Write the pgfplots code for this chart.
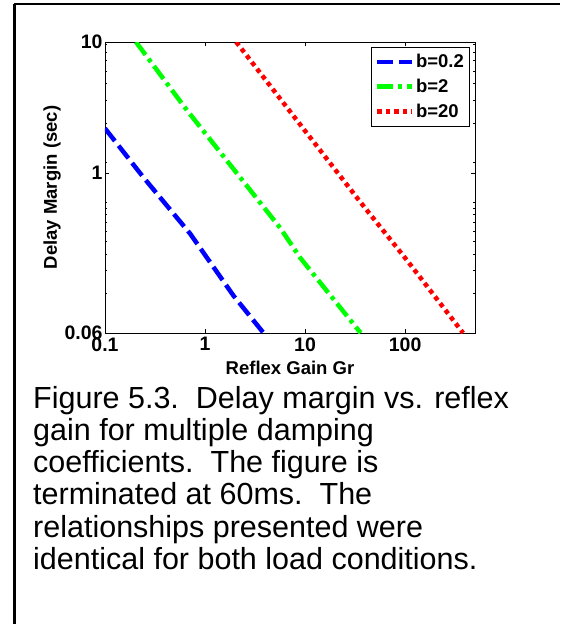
\documentclass[border=0pt]{standalone}
\usepackage{pgfplots}
\pgfplotsset{compat=1.18}
\usepackage{fontspec}
\setmainfont{Liberation Sans}
\definecolor{mblue}{RGB}{0,0,255}
\definecolor{mgreen}{RGB}{0,255,0}
\definecolor{mred}{RGB}{255,0,0}
\begin{document}
\begin{tikzpicture}
\useasboundingbox (0pt,0pt) rectangle (560pt,-624pt);
\draw[line width=2.7pt] (14pt,-4pt) -- (560pt,-4pt);
\draw[line width=3pt] (14pt,-4pt) -- (14pt,-624pt);
\begin{axis}[
  at={(105pt,-333pt)}, anchor=south west,
  scale only axis, width=370pt, height=291pt,
  xmode=log, ymode=log,
  xmin=0.1, xmax=500, ymin=0.06, ymax=10,
  xtick={0.1,1,10,100}, ytick={0.06,1,10},
  xminorticks=false, yminorticks=true,
  minor ytick={0.12,0.18,0.24,0.30,0.36,0.42,0.48,0.54,0.60,1.2,2.4,3.6,4.8,6.0,7.2,8.4,9.6},
  log ticks with fixed point,
  /pgf/number format/assume math mode=true,
  ticklabel style={font=\bfseries\fontsize{19.5}{19.5}\selectfont},
  xticklabel style={yshift=-1pt},
  yticklabel style={xshift=1pt},
  major tick length=4pt, minor tick length=2.5pt,
  tick style={black, line width=0.6pt},
  axis line style={line width=0.8pt},
  xlabel={Reflex Gain Gr}, ylabel={Delay Margin (sec)},
  label style={font=\bfseries\fontsize{18.5}{18.5}\selectfont},
  xlabel style={at={(axis description cs:0.5,-0.144)}, anchor=base},
  ylabel style={at={(axis description cs:-0.13,0.5)}, anchor=base},
  legend style={at={(axis description cs:0.986,0.983)}, anchor=north east,
    font=\bfseries\fontsize{18.5}{18.5}\selectfont, draw=black, line width=0.8pt,
    inner xsep=4pt, inner ysep=5pt, row sep=6pt, column sep=0pt,
    nodes={inner xsep=1.5pt}},
  legend cell align=left,
  legend image code/.code={\draw[#1] (0pt,0pt) -- (35pt,0pt);},
]
\addplot[mblue, line width=4.5pt, dash pattern=on 16pt off 6pt] coordinates {
(0.1,2.19) (0.241,0.93) (0.71,0.344) (1.92,0.116) (3.85,0.06)};
\addlegendentry{b=0.2}
\addplot[mgreen, line width=4.5pt, dash pattern=on 16pt off 5pt on 4pt off 5pt] coordinates {
(0.204,10) (0.658,3.02) (5.65,0.38) (8.95,0.225) (36,0.06)};
\addlegendentry{b=2}
\addplot[mred, line width=4.5pt, dash pattern=on 4.5pt off 4pt] coordinates {
(2.05,10) (9.31,2.25) (35.7,0.60) (104.7,0.215) (380,0.06)};
\addlegendentry{b=20}
\end{axis}
\begin{scope}[every node/.style={anchor=base west, inner sep=0pt, font=\fontsize{30.5}{32}\selectfont}]
\node at (33pt,-408.3pt) {Figure 5.3.\ \ Delay margin vs. reflex};
\node at (33pt,-440.5pt) {gain for multiple damping};
\node at (33pt,-472.7pt) {coefficients.\ \ The figure is};
\node at (33pt,-504.9pt) {terminated at 60ms.\ \ The};
\node at (33pt,-537.1pt) {relationships presented were};
\node at (33pt,-569.3pt) {identical for both load conditions.};
\end{scope}
\end{tikzpicture}
\end{document}
